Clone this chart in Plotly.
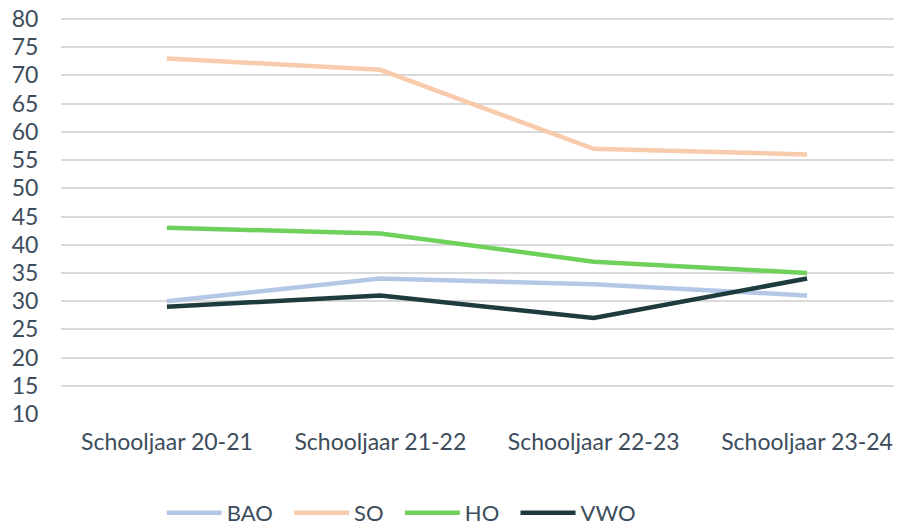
import plotly.graph_objects as go

categories = ["Schooljaar 20-21", "Schooljaar 21-22", "Schooljaar 22-23", "Schooljaar 23-24"]
bao = [30, 34, 33, 31]
so = [73, 71, 57, 56]
ho = [43, 42, 37, 35]
vwo = [29, 31, 27, 34]
series_names = ["BAO", "SO", "HO", "VWO"]
series_colors = ["#b4c7e7", "#f8cbad", "#6fd15c", "#1e3b3e"]
y_ticks = list(range(10, 85, 5))

pad = "\u00a0\u00a0"
fig = go.Figure()
for name, vals, col in zip(series_names, [bao, so, ho, vwo], series_colors):
    fig.add_trace(go.Scatter(x=categories, y=vals, name=name + pad, mode="lines",
                             line=dict(color=col, width=4.5)))

txt = "#3d4c5b"
fs = 23
fig.update_layout(
    width=894, height=516,
    margin=dict(l=53, r=0, t=8, b=110),
    plot_bgcolor="white", paper_bgcolor="white",
    font=dict(family="Lato", size=fs, color=txt),
    showlegend=True,
    legend=dict(orientation="h", x=0.1197, xanchor="left", yref="container", y=0.0213,
                yanchor="middle", font=dict(size=22, color=txt), itemwidth=55,
                traceorder="normal"),
    xaxis=dict(type="category", range=[-0.4965, 3.445], showgrid=False, showline=False,
               automargin=False,
               ticks="outside", tickcolor="white", ticklen=7, tickfont=dict(size=fs, color=txt)),
    yaxis=dict(range=[10, 80.53], tickvals=y_ticks, showgrid=True, gridcolor="#d9d9d9",
               gridwidth=1.5, zeroline=False, showline=False, automargin=False,
               ticklabeloverflow="allow",
               ticks="outside", tickcolor="white", ticklen=17, tickfont=dict(size=fs, color=txt)),
)
fig.write_html("out.html")
